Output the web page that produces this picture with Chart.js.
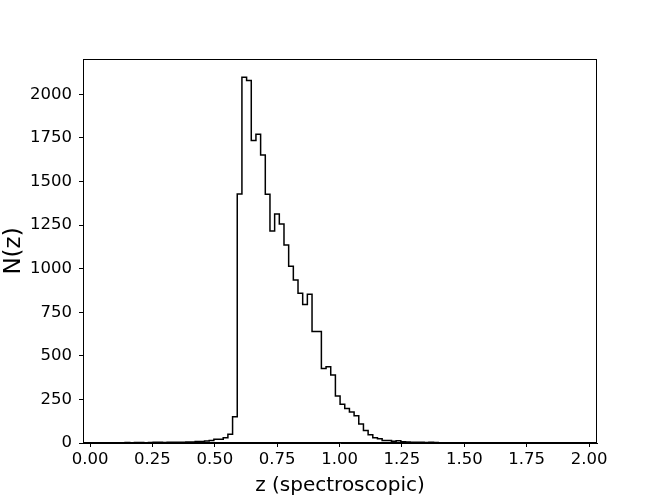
<!DOCTYPE html>
<html>
<head>
<meta charset="utf-8">
<title>N(z)</title>
<script src="https://cdn.jsdelivr.net/npm/chart.js@4.4.1/dist/chart.umd.min.js"></script>
<style>
  html, body { margin: 0; padding: 0; background: #fff; }
  canvas { display: block; }
</style>
</head>
<body>
<canvas id="chartNz" width="664" height="498"></canvas>
<script>
'use strict';

/* ── Histogram definition (100 bins over the z range) ── */
var BIN_START = 0.0656;
var BIN_WIDTH = 0.01873;

/* counts per bin */
var COUNTS = [
    2, 1, 2, 1, 3, 2, 3, 3, 2, 3,
    4, 4, 3, 4, 5, 5, 4, 6, 6, 8,
    8, 11, 14, 21, 22, 30, 50, 150, 1429, 2098,
    2079, 1735, 1771, 1652, 1427, 1216, 1314, 1257, 1136, 1014,
    935, 859, 795, 853, 640, 640, 428, 438, 390, 270,
    222, 198, 178, 156, 109, 72, 47, 30, 25, 15,
    14, 10, 13, 7, 6, 5, 5, 4, 3, 4,
    3, 2, 2, 2, 1, 2, 1, 1, 2, 1,
    1, 1, 1, 0, 1, 1, 0, 1, 1, 2,
    2, 2, 1, 1, 1, 0, 1, 0, 1, 1
];

/* ── Axes ── */
var X_TICKS = [0, 0.25, 0.5, 0.75, 1, 1.25, 1.5, 1.75, 2];
var Y_TICKS = [0, 250, 500, 750, 1000, 1250, 1500, 1750, 2000];
var X_MIN = -0.0281;
var X_MAX = 2.0317;
var Y_MAX = 2203;

var FONT = 'DejaVu Sans';

/* step outline: start at 0 on first edge, end at 0 on last edge */
function buildOutline() {
    var pts = [{ x: BIN_START, y: 0 }];
    COUNTS.forEach(function (c, i) {
        pts.push({ x: BIN_START + i * BIN_WIDTH, y: c });
    });
    var last = BIN_START + COUNTS.length * BIN_WIDTH;
    pts.push({ x: last, y: COUNTS[COUNTS.length - 1] });
    pts.push({ x: last, y: 0 });
    return pts;
}

/* full box around the plot area, like matplotlib spines */
var frame = {
    id: 'frame',
    afterDraw: function (chart) {
        var a = chart.chartArea;
        var ctx = chart.ctx;
        ctx.save();
        ctx.strokeStyle = '#000';
        ctx.lineWidth = 1;
        ctx.strokeRect(a.left + 0.5, a.top + 0.5, a.right - a.left - 1, a.bottom - a.top - 1);
        ctx.restore();
    }
};

new Chart(document.getElementById('chartNz'), {
    type: 'line',
    data: {
        datasets: [{
            data: buildOutline(),
            stepped: 'before',   // horizontal at the bin count, then vertical at the next edge
            borderColor: '#000',
            borderWidth: 1.5,
            pointRadius: 0,
            fill: false
        }]
    },
    options: {
        responsive: false,
        animation: false,
        layout: { padding: { top: 59, right: 67, bottom: 0, left: 0 } },
        plugins: {
            legend: { display: false },
            tooltip: { enabled: false }
        },
        scales: {
            x: {
                type: 'linear',
                min: X_MIN,
                max: X_MAX,
                afterBuildTicks: function (s) {
                    s.ticks = X_TICKS.map(function (v) { return { value: v }; });
                },
                afterFit: function (s) { s.height = 55; },
                grid: { drawOnChartArea: false, drawTicks: true, tickLength: 4, color: '#000' },
                border: { display: true, color: '#000', width: 1 },
                ticks: {
                    color: '#000',
                    padding: 3,
                    maxRotation: 0,
                    font: { family: FONT, size: 16.5 },
                    callback: function (v) { return v.toFixed(2); }
                },
                title: {
                    display: true,
                    text: 'z (spectroscopic)',
                    color: '#000',
                    padding: { top: 0, bottom: 0 },
                    font: { family: FONT, size: 20 }
                }
            },
            y: {
                type: 'linear',
                min: 0,
                max: Y_MAX,
                afterBuildTicks: function (s) {
                    s.ticks = Y_TICKS.map(function (v) { return { value: v }; });
                },
                afterFit: function (s) { s.width = 83; },
                grid: { drawOnChartArea: false, drawTicks: true, tickLength: 4, color: '#000' },
                border: { display: true, color: '#000', width: 1 },
                ticks: {
                    color: '#000',
                    padding: 7,
                    font: { family: FONT, size: 16.5 },
                    callback: function (v) { return String(v); }
                },
                title: {
                    display: true,
                    text: 'N(z)',
                    color: '#000',
                    padding: { top: 0, bottom: 0 },
                    font: { family: FONT, size: 23 }
                }
            }
        }
    },
    plugins: [frame]
});
</script>
</body>
</html>
